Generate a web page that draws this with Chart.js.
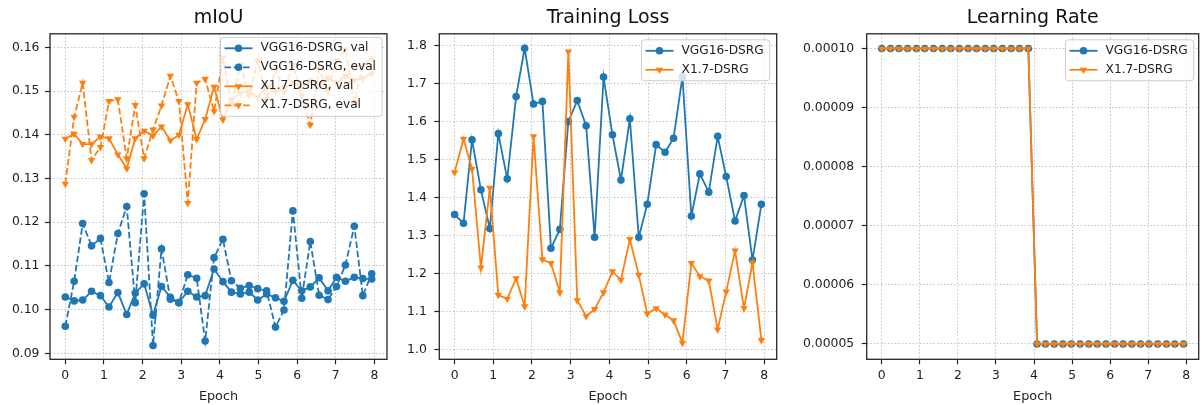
<!DOCTYPE html>
<html>
<head>
<meta charset="utf-8">
<title>DSRG training curves</title>
<script src="https://cdn.jsdelivr.net/npm/chart.js@4.4.1/dist/chart.umd.min.js"></script>
<style>
    html, body { margin: 0; padding: 0; background: #fff; }
    #wrap { position: relative; width: 1203px; height: 405px; overflow: hidden; }
    .panel { position: absolute; top: 0; }
</style>
</head>
<body>
<div id="wrap">
    <canvas id="miouChart" class="panel" width="392" height="405" style="left:0px"></canvas>
    <canvas id="lossChart" class="panel" width="392" height="405" style="left:392px"></canvas>
    <canvas id="lrChart" class="panel" width="419" height="405" style="left:784px"></canvas>
</div>
<script>
// Epoch of every logged step (36 evaluations over 8 epochs)
const epochs = [0, 0.23, 0.45, 0.68, 0.91, 1.13, 1.36, 1.59, 1.81, 2.04, 2.27, 2.49,
    2.72, 2.94, 3.17, 3.40, 3.62, 3.85, 4.08, 4.30, 4.53, 4.76, 4.98, 5.21,
    5.44, 5.66, 5.89, 6.12, 6.34, 6.57, 6.80, 7.02, 7.25, 7.48, 7.70, 7.93];

// mIoU
const vggMiouVal = [0.1029, 0.1020, 0.1022, 0.1042, 0.1032, 0.1006, 0.1039, 0.0989, 0.1038, 0.1059, 0.0987, 0.1053,
    0.1028, 0.1016, 0.1042, 0.1029, 0.1032, 0.1093, 0.1064, 0.1040, 0.1036, 0.1040, 0.1022, 0.1036,
    0.1027, 0.1019, 0.1067, 0.1043, 0.1052, 0.1073, 0.1043, 0.1074, 0.1065, 0.1074, 0.1071, 0.1070];
const vggMiouEval = [0.0962, 0.1065, 0.1197, 0.1146, 0.1163, 0.1062, 0.1174, 0.1236, 0.1016, 0.1265, 0.0918, 0.1139,
    0.1024, 0.1016, 0.1080, 0.1072, 0.0928, 0.1119, 0.1161, 0.1066, 0.1049, 0.1055, 0.1048, 0.1043,
    0.0960, 0.0999, 0.1226, 0.1026, 0.1156, 0.1033, 0.1023, 0.1053, 0.1102, 0.1191, 0.1032, 0.1082];
const x17MiouVal = [0.1391, 0.1402, 0.1379, 0.1379, 0.1396, 0.1392, 0.1355, 0.1323, 0.1392, 0.1409, 0.1398, 0.1419,
    0.1387, 0.1400, 0.1470, 0.1390, 0.1436, 0.1510, 0.1435, 0.1480, 0.1495, 0.1500, 0.1485, 0.1510,
    0.1500, 0.1505, 0.1520, 0.1510, 0.1525, 0.1515, 0.1530, 0.1520, 0.1535, 0.1525, 0.1530, 0.1540];
const x17MiouEval = [0.1288, 0.1441, 0.1519, 0.1342, 0.1372, 0.1477, 0.1481, 0.1346, 0.1468, 0.1346, 0.1412, 0.1467,
    0.1535, 0.1477, 0.1244, 0.1519, 0.1528, 0.1454, 0.1577, 0.1470, 0.1560, 0.1490, 0.1570, 0.1480,
    0.1550, 0.1500, 0.1560, 0.1490, 0.1423, 0.1550, 0.1500, 0.1570, 0.1595, 0.1475, 0.1560, 0.1575];

// Training loss
const vggLoss = [1.355, 1.332, 1.552, 1.420, 1.318, 1.568, 1.449, 1.666, 1.793, 1.646, 1.653, 1.266,
    1.316, 1.600, 1.655, 1.589, 1.295, 1.717, 1.565, 1.446, 1.607, 1.295, 1.382, 1.539,
    1.519, 1.556, 1.718, 1.351, 1.462, 1.414, 1.561, 1.455, 1.338, 1.405, 1.235, 1.382];
const x17Loss = [1.466, 1.554, 1.475, 1.215, 1.425, 1.143, 1.133, 1.187, 1.113, 1.561, 1.237, 1.227,
    1.150, 1.784, 1.129, 1.087, 1.106, 1.150, 1.205, 1.183, 1.290, 1.196, 1.094, 1.108,
    1.091, 1.076, 1.017, 1.227, 1.192, 1.181, 1.052, 1.152, 1.260, 1.108, 1.228, 1.024];

// Learning rate (halved after epoch 4)
const vggLr = [0.0001, 0.0001, 0.0001, 0.0001, 0.0001, 0.0001, 0.0001, 0.0001, 0.0001, 0.0001, 0.0001, 0.0001,
    0.0001, 0.0001, 0.0001, 0.0001, 0.0001, 0.0001, 0.00005, 0.00005, 0.00005, 0.00005, 0.00005, 0.00005,
    0.00005, 0.00005, 0.00005, 0.00005, 0.00005, 0.00005, 0.00005, 0.00005, 0.00005, 0.00005, 0.00005, 0.00005];
const x17Lr = [0.0001, 0.0001, 0.0001, 0.0001, 0.0001, 0.0001, 0.0001, 0.0001, 0.0001, 0.0001, 0.0001, 0.0001,
    0.0001, 0.0001, 0.0001, 0.0001, 0.0001, 0.0001, 0.00005, 0.00005, 0.00005, 0.00005, 0.00005, 0.00005,
    0.00005, 0.00005, 0.00005, 0.00005, 0.00005, 0.00005, 0.00005, 0.00005, 0.00005, 0.00005, 0.00005, 0.00005];

// Tick labels
const epochTicks = [0, 1, 2, 3, 4, 5, 6, 7, 8];
const miouTicks = [0.09, 0.10, 0.11, 0.12, 0.13, 0.14, 0.15, 0.16];
const lossTicks = [1.0, 1.1, 1.2, 1.3, 1.4, 1.5, 1.6, 1.7, 1.8];
const lrTicks = [0.00005, 0.00006, 0.00007, 0.00008, 0.00009, 0.00010];

const BLUE = '#1f77b4';
const ORANGE = '#ff7f0e';
const TEXT_COLOR = '#1e1e1e';
const GRID_COLOR = '#c4c4c4';
const TICK_FONT = { family: 'DejaVu Sans', size: 12.4 };
const LEGEND_FONT = '12.2px "DejaVu Sans"';

Chart.defaults.font.family = 'DejaVu Sans';

// Axes frame + boxed legend in the upper right, drawn over the lines
const frameLegend = {
    id: 'frameLegend',
    afterDraw: function(chart, args, opts) {
        const ctx = chart.ctx;
        const a = chart.chartArea;
        ctx.save();
        ctx.setLineDash([]);
        ctx.strokeStyle = '#262626';
        ctx.lineWidth = 1.3;
        ctx.strokeRect(a.left, a.top, a.right - a.left, a.bottom - a.top);

        const sets = chart.data.datasets;
        ctx.font = LEGEND_FONT;
        const textW = Math.max.apply(null, sets.map(d => ctx.measureText(d.label).width));
        const w = 4 + 28 + 8 + textW + 6;
        const h = 22 + (sets.length - 1) * 19;
        const x = a.right - opts.right - w;
        const y = a.top + opts.top;

        ctx.beginPath();
        ctx.roundRect(x, y, w, h, 3);
        ctx.fillStyle = 'rgba(255,255,255,0.8)';
        ctx.fill();
        ctx.strokeStyle = '#cccccc';
        ctx.lineWidth = 1;
        ctx.stroke();

        sets.forEach(function(d, i) {
            const cy = y + 11 + i * 19;
            ctx.strokeStyle = d.borderColor;
            ctx.lineWidth = d.borderWidth;
            ctx.setLineDash(d.borderDash);
            ctx.beginPath();
            ctx.moveTo(x + 4, cy);
            ctx.lineTo(x + 32, cy);
            ctx.stroke();
            ctx.setLineDash([]);

            // marker in the middle of the handle
            const mx = x + 18, r = d.pointRadius;
            ctx.fillStyle = d.borderColor;
            ctx.beginPath();
            if (d.pointStyle === 'triangle') {
                ctx.moveTo(mx, cy + r);
                ctx.lineTo(mx - r * 0.866, cy - r / 2);
                ctx.lineTo(mx + r * 0.866, cy - r / 2);
                ctx.closePath();
            } else {
                ctx.arc(mx, cy, r, 0, Math.PI * 2);
            }
            ctx.fill();

            ctx.fillStyle = TEXT_COLOR;
            ctx.textBaseline = 'middle';
            ctx.textAlign = 'left';
            ctx.fillText(d.label, x + 40, cy);
        });
        ctx.restore();
    }
};

function lineSet(label, values, color, marker, dashed) {
    const tri = marker === 'v';
    return {
        label: label,
        data: values.map((v, i) => ({ x: epochs[i], y: v })),
        borderColor: color,
        backgroundColor: color,
        borderWidth: 1.8,
        borderDash: dashed ? [6.5, 2.8] : [],
        pointStyle: tri ? 'triangle' : 'circle',
        pointRotation: tri ? 180 : 0,
        pointRadius: tri ? 4.3 : 3.8,
        pointBackgroundColor: color,
        pointBorderColor: color,
        pointBorderWidth: 0,
        tension: 0,
        fill: false
    };
}

function makePanel(cfg) {
    const n = cfg.datasets.length;
    // later series drawn on top
    cfg.datasets.forEach((d, i) => { d.order = n - i; });

    const grid = {
        color: GRID_COLOR,
        lineWidth: 1,
        drawTicks: true,
        tickLength: 5,
        tickWidth: 1.2,
        tickColor: '#262626',
        tickBorderDash: []
    };

    return new Chart(document.getElementById(cfg.id), {
        type: 'line',
        data: { datasets: cfg.datasets },
        plugins: [frameLegend],
        options: {
            responsive: false,
            animation: false,
            events: [],
            layout: { padding: { left: 0, right: cfg.padRight, top: 0, bottom: 0 } },
            plugins: {
                legend: { display: false },
                tooltip: { enabled: false },
                title: {
                    display: true,
                    text: cfg.title,
                    fullSize: false,
                    color: '#111',
                    font: { family: 'DejaVu Sans', size: 19, weight: 'normal' },
                    padding: { top: 7, bottom: 4 }
                },
                frameLegend: cfg.legend
            },
            scales: {
                x: {
                    type: 'linear',
                    bounds: 'data',
                    min: -0.396,
                    max: 8.326,
                    afterBuildTicks: axis => { axis.ticks = epochTicks.map(v => ({ value: v })); },
                    afterFit: axis => { axis.height = 45.7; },
                    ticks: { font: TICK_FONT, color: TEXT_COLOR, padding: 4, maxRotation: 0, autoSkip: false,
                        callback: v => String(v) },
                    grid: grid,
                    border: { display: false, dash: [1.5, 2] },
                    title: { display: true, text: 'Epoch', color: TEXT_COLOR,
                        font: { family: 'DejaVu Sans', size: 12.8 }, padding: { top: 0, bottom: 1 } }
                },
                y: {
                    type: 'linear',
                    bounds: 'data',
                    min: cfg.yMin,
                    max: cfg.yMax,
                    afterBuildTicks: axis => { axis.ticks = cfg.yTicks.map(v => ({ value: v })); },
                    afterFit: axis => { axis.width = cfg.yWidth; },
                    ticks: { font: TICK_FONT, color: TEXT_COLOR, padding: cfg.yPad, autoSkip: false,
                        callback: v => v.toFixed(cfg.decimals) },
                    grid: grid,
                    border: { display: false, dash: [1.5, 2] }
                }
            }
        }
    });
}

const TrainingCharts = {
    init: function() {
        this.initMiou();
        this.initLoss();
        this.initLr();
    },

    initMiou: function() {
        makePanel({
            id: 'miouChart',
            title: 'mIoU',
            datasets: [
                lineSet('VGG16-DSRG, val', vggMiouVal, BLUE, 'o', false),
                lineSet('VGG16-DSRG, eval', vggMiouEval, BLUE, 'o', true),
                lineSet('X1.7-DSRG, val', x17MiouVal, ORANGE, 'v', false),
                lineSet('X1.7-DSRG, eval', x17MiouEval, ORANGE, 'v', true)
            ],
            yMin: 0.08863, yMax: 0.16314, yTicks: miouTicks, decimals: 2,
            yWidth: 50, yPad: 5.5, padRight: 5,
            legend: { top: 3.5, right: 5 }
        });
    },

    initLoss: function() {
        makePanel({
            id: 'lossChart',
            title: 'Training Loss',
            datasets: [
                lineSet('VGG16-DSRG', vggLoss, BLUE, 'o', false),
                lineSet('X1.7-DSRG', x17Loss, ORANGE, 'v', false)
            ],
            yMin: 0.9737, yMax: 1.831, yTicks: lossTicks, decimals: 1,
            yWidth: 47.3, yPad: 7.5, padRight: 7.3,
            legend: { top: 6, right: 7 }
        });
    },

    initLr: function() {
        makePanel({
            id: 'lrChart',
            title: 'Learning Rate',
            datasets: [
                lineSet('VGG16-DSRG', vggLr, BLUE, 'o', false),
                lineSet('X1.7-DSRG', x17Lr, ORANGE, 'v', false)
            ],
            yMin: 0.0000474, yMax: 0.0001025, yTicks: lrTicks, decimals: 5,
            yWidth: 82.7, yPad: 7.5, padRight: 1,
            legend: { top: 6, right: 5 }
        });
    }
};

TrainingCharts.init();
</script>
</body>
</html>
